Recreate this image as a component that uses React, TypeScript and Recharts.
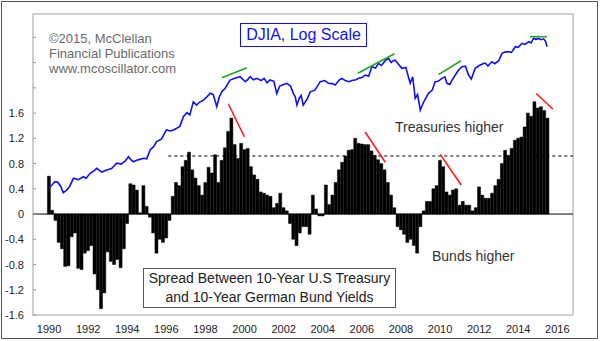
import React from "react";
import {
  ComposedChart,
  Bar,
  Line,
  XAxis,
  YAxis,
  ReferenceLine,
  ReferenceArea,
} from "recharts";

const font = "Arial, 'Liberation Sans', Helvetica, sans-serif";

// Spread (US 10yr minus German 10yr), read every two months starting Jan 1990
const spreadStart = 1990;
const spreadPerYear = 6;
const spreadValues = [
  0.6, 0.06, -0.1, -0.45, -0.55, -0.83, // 1990
  -0.82, -0.36, -0.3, -0.86, -0.88, -0.62, // 1991
  -0.58, -0.5, -0.95, -1.2, -1.5, -1.25, // 1992
  -0.6, -0.75, -0.8, -0.72, -0.85, -0.55, // 1993
  -0.15, 0.48, 0.46, 0.38, 0.02, 0.45, // 1994
  0.12, -0.05, -0.3, -0.62, -0.4, -0.45, // 1995
  -0.38, -0.1, 0.28, 0.5, 0.45, 0.75, // 1996
  0.85, 0.98, 0.7, 0.57, 0.45, 0.3, // 1997
  0.5, 0.74, 0.65, 0.94, 0.5, 0.85, // 1998
  1.05, 1.31, 1.52, 1.1, 0.88, 1.12, // 1999
  1.02, 1.04, 0.75, 0.62, 0.55, 0.35, // 2000
  0.33, 0.3, 0.28, 0.1, 0.17, 0.33, // 2001
  0.1, 0.05, -0.15, -0.4, -0.5, -0.3, // 2002
  -0.2, -0.2, -0.32, 0.3, 0.08, -0.03, // 2003
  -0.03, 0.46, 0.15, 0.3, 0.5, 0.7, // 2004
  0.82, 0.92, 1.01, 1.02, 1.2, 1.12, // 2005
  1.11, 1.1, 1.1, 1.0, 0.93, 0.86, // 2006
  0.8, 0.7, 0.5, 0.3, 0.1, -0.2, // 2007
  -0.25, -0.32, -0.45, -0.4, -0.5, -0.62, // 2008
  -0.2, 0.05, 0.2, 0.2, 0.4, 0.45, // 2009
  0.85, 0.75, 0.35, 0.3, 0.38, 0.4, // 2010
  0.14, 0.2, 0.14, 0.14, 0.05, 0.1, // 2011
  0.43, 0.3, 0.25, 0.25, 0.33, 0.45, // 2012
  0.55, 0.8, 1.01, 0.93, 1.04, 1.17, // 2013
  1.2, 1.22, 1.38, 1.6, 1.55, 1.78, // 2014
  1.68, 1.7, 1.64, 1.52, // 2015
];

// DJIA, log scale
const djiaYears = [
  1990.0, 1990.15, 1990.3, 1990.45, 1990.6, 1990.73, 1990.9, 1991.05, 1991.25, 1991.5,
  1991.75, 1991.9, 1992.1, 1992.3, 1992.44, 1992.7, 1992.95, 1993.2, 1993.46, 1993.7,
  1993.9, 1994.06, 1994.2, 1994.31, 1994.55, 1994.83, 1995.0, 1995.17, 1995.35, 1995.5,
  1995.75, 1996.0, 1996.2, 1996.36, 1996.53, 1996.7, 1996.87, 1997.05, 1997.2, 1997.38,
  1997.55, 1997.7, 1997.9, 1998.1, 1998.24, 1998.4, 1998.58, 1998.7, 1998.84, 1999.0,
  1999.26, 1999.5, 1999.77, 1999.9, 2000.03, 2000.15, 2000.29, 2000.45, 2000.63, 2000.85,
  2001.0, 2001.15, 2001.3, 2001.5, 2001.65, 2001.8, 2002.0, 2002.16, 2002.35, 2002.5,
  2002.59, 2002.68, 2002.8, 2002.9, 2003.0, 2003.2, 2003.36, 2003.6, 2003.87, 2004.1,
  2004.3, 2004.5, 2004.64, 2004.85, 2004.98, 2005.15, 2005.32, 2005.5, 2005.7, 2005.83,
  2006.0, 2006.17, 2006.35, 2006.51, 2006.7, 2006.85, 2007.0, 2007.2, 2007.36, 2007.5,
  2007.6, 2007.7, 2007.85, 2008.05, 2008.25, 2008.47, 2008.6, 2008.73, 2008.85, 2008.99,
  2009.16, 2009.41, 2009.6, 2009.75, 2009.9, 2010.1, 2010.25, 2010.35, 2010.5, 2010.6,
  2010.78, 2010.95, 2011.12, 2011.3, 2011.46, 2011.6, 2011.8, 2012.0, 2012.2, 2012.31,
  2012.45, 2012.65, 2012.8, 2013.0, 2013.17, 2013.35, 2013.5, 2013.65, 2013.85, 2014.0,
  2014.19, 2014.35, 2014.53, 2014.65, 2014.79, 2014.9, 2015.04, 2015.15, 2015.3, 2015.4,
  2015.47,
];
const djiaValues = [
  2690, 2800, 2920, 2900, 2750, 2540, 2620, 2750, 3050, 3000,
  3110, 3050, 3250, 3350, 3460, 3300, 3390, 3450, 3690, 3650,
  3800, 4000, 3850, 3760, 3850, 3930, 3900, 4360, 4550, 4850,
  5000, 5620, 5550, 5620, 5740, 5900, 6650, 7000, 6800, 8030,
  7700, 8000, 8200, 8600, 8940, 8800, 7540, 8500, 9120, 9500,
  10570, 10800, 11020, 10700, 10350, 10600, 11020, 10600, 10800, 10500,
  10800, 10200, 10570, 10400, 8900, 9800, 10000, 10140, 9800, 8900,
  8560, 7700, 8400, 8700, 7700, 8300, 9100, 9300, 10350, 10500,
  10140, 10100, 9920, 10600, 10800, 10500, 10350, 10500, 10600, 10800,
  10900, 11260, 11100, 12500, 12300, 13060, 12700, 13500, 13900, 13200,
  13500, 13600, 13000, 12260, 12400, 10140, 11000, 8390, 8800, 7230,
  8000, 8940, 9300, 10350, 10400, 10800, 11000, 10140, 10000, 10500,
  11260, 12000, 12510, 12600, 11260, 10700, 12260, 12700, 13000, 13100,
  12600, 13330, 13000, 13500, 14820, 15100, 15130, 15000, 16110, 16000,
  16820, 16600, 17170, 16900, 17920, 17700, 17900, 17600, 17800, 17200,
  16120,
];

const yearTicks = [1990, 1992, 1994, 1996, 1998, 2000, 2002, 2004, 2006, 2008, 2010, 2012, 2014, 2016];
const spreadTicks = [-1.6, -1.2, -0.8, -0.4, 0, 0.4, 0.8, 1.2, 1.6, 2.0, 2.4, 2.8];
const labelledMax = 1.6;
const thresholdLevel = 0.92;
const thresholdFrom = 1996.1;

// trend annotations, [x1, y1, x2, y2] in year / spread-axis units
const greenTrends = [
  [1998.84, 2.16, 2000.12, 2.32],
  [2005.8, 2.23, 2007.67, 2.54],
  [2009.92, 2.21, 2011.07, 2.43],
  [2014.6, 2.81, 2015.47, 2.81],
];
const redTrends = [
  [1999.18, 1.74, 1999.99, 1.225],
  [2006.17, 1.3, 2007.2, 0.82],
  [2010.01, 0.946, 2011.08, 0.46],
  [2014.92, 1.91, 2015.78, 1.66],
];

const xDomain = [1989.18, 2016.8];
const yDomain = [-1.6, 3.17];
const djiaDomain = [541, 24370];

const barData = spreadValues.map((v, i) => ({
  year: spreadStart + i / spreadPerYear,
  spread: v,
}));
const lineData = djiaYears.map((y, i) => ({ year: y, djia: djiaValues[i] }));

const YTick = (props: any) => {
  const { x, y, payload } = props;
  const v = payload.value;
  return (
    <g>
      <line x1={x + 9} x2={x + 12} y1={y} y2={y} stroke="#999" />
      {v <= labelledMax && (
        <text x={x} y={y} dy={4} textAnchor="end" fontSize={11} fill="#222" fontFamily={font}>
          {v === 0 ? "0" : v.toFixed(1)}
        </text>
      )}
    </g>
  );
};

const App = () => {
  return (
    <div style={{ position: "absolute", left: 0, top: 0, width: 600, height: 341, background: "#fff", fontFamily: font }}>
      <ComposedChart
        width={600}
        height={341}
        data={barData}
        margin={{ top: 14, right: 27, bottom: 6, left: 0 }}
        barCategoryGap={0}
        barGap={0}
      >
        <XAxis
          dataKey="year"
          type="number"
          domain={xDomain}
          allowDataOverflow
          ticks={yearTicks}
          tickLine={false}
          axisLine={false}
          tickSize={0}
          tickMargin={10}
          height={20}
          tick={{ fontSize: 11, fill: "#222", fontFamily: font }}
        />
        <XAxis xAxisId="djiaX" dataKey="year" type="number" domain={xDomain} allowDataOverflow hide />
        <YAxis
          yAxisId="spread"
          domain={yDomain}
          allowDataOverflow
          ticks={spreadTicks}
          width={33}
          tickSize={4}
          tickMargin={5}
          tickLine={false}
          axisLine={false}
          tick={<YTick />}
          interval={0}
        />
        <YAxis yAxisId="djia" orientation="right" scale="log" domain={djiaDomain} allowDataOverflow hide />
        <ReferenceArea
          yAxisId="spread"
          x1={xDomain[0]}
          x2={xDomain[1]}
          y1={yDomain[0]}
          y2={yDomain[1]}
          fill="none"
          stroke="#cfcfcf"
          strokeWidth={2}
        />
        <Bar yAxisId="spread" dataKey="spread" fill="#000" stroke="#000" strokeWidth={0.5} isAnimationActive={false} />
        <ReferenceLine yAxisId="spread" y={0} stroke="#000" strokeWidth={1} />
        <ReferenceLine
          yAxisId="spread"
          segment={[
            { x: thresholdFrom, y: thresholdLevel },
            { x: xDomain[1], y: thresholdLevel },
          ]}
          stroke="#000"
          strokeDasharray="3 3"
        />
        <Line
          xAxisId="djiaX"
          yAxisId="djia"
          data={lineData}
          dataKey="djia"
          type="linear"
          stroke="#1010f0"
          strokeWidth={1.6}
          dot={false}
          isAnimationActive={false}
        />
        {greenTrends.map((t, i) => (
          <ReferenceLine
            key={"g" + i}
            yAxisId="spread"
            segment={[{ x: t[0], y: t[1] }, { x: t[2], y: t[3] }]}
            stroke="#1fa51f"
            strokeWidth={1.6}
          />
        ))}
        {redTrends.map((t, i) => (
          <ReferenceLine
            key={"r" + i}
            yAxisId="spread"
            segment={[{ x: t[0], y: t[1] }, { x: t[2], y: t[3] }]}
            stroke="#ff1a1a"
            strokeWidth={1.6}
          />
        ))}
      </ComposedChart>

      {/* outer frame */}
      <div style={{ position: "absolute", left: 1, top: 1, width: 595, height: 336, border: "1px solid #555", pointerEvents: "none" }} />

      <div style={{ position: "absolute", left: 49, top: 31, fontSize: 13, lineHeight: "15px", color: "#6a6a6a" }}>
        ©2015, McClellan
        <br />
        Financial Publications
        <br />
        www.mcoscillator.com
      </div>

      <div
        style={{
          position: "absolute",
          left: 240,
          top: 23,
          width: 125,
          height: 22,
          border: "1px solid #1010f0",
          background: "#fff",
          color: "#1010f0",
          fontSize: 16,
          lineHeight: "22px",
          textAlign: "center",
        }}
      >
        DJIA, Log Scale
      </div>

      <div style={{ position: "absolute", left: 395, top: 119, fontSize: 14, color: "#333" }}>Treasuries higher</div>
      <div style={{ position: "absolute", left: 432, top: 248, fontSize: 14, color: "#333" }}>Bunds higher</div>

      <div
        style={{
          position: "absolute",
          left: 143,
          top: 268,
          width: 251,
          height: 38,
          border: "1px solid #555",
          background: "#fff",
          color: "#222",
          fontSize: 14,
          lineHeight: "19px",
          textAlign: "center",
        }}
      >
        Spread Between 10-Year U.S Treasury
        <br />
        and 10-Year German Bund Yields
      </div>
    </div>
  );
};

export default App;
